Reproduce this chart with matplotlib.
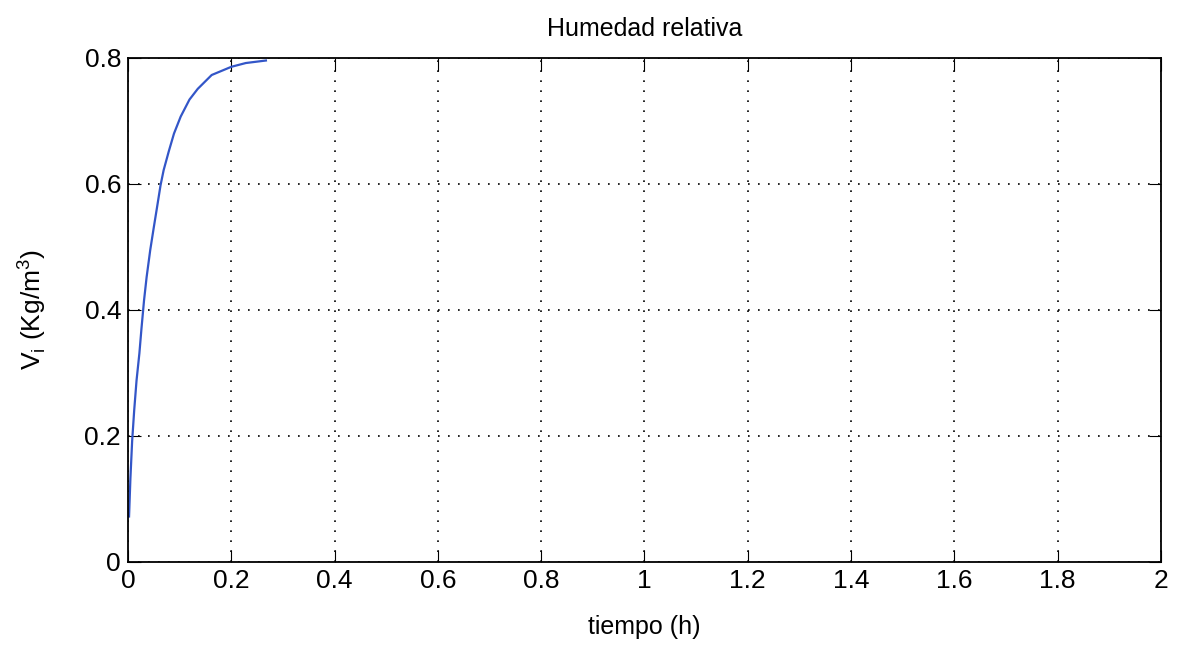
import matplotlib
matplotlib.use('Agg')
import matplotlib.pyplot as plt
import numpy as np

# Curve (time in h, Vi in Kg/m^3)
tiempo = [0.002, 0.0046, 0.008, 0.012, 0.0165, 0.022, 0.026, 0.031, 0.036,
          0.043, 0.0495, 0.056, 0.063, 0.069, 0.079, 0.089, 0.102, 0.119,
          0.135, 0.162, 0.2, 0.228, 0.267]
humedad = [0.072, 0.132, 0.192, 0.241, 0.288, 0.331, 0.37, 0.415, 0.452,
           0.495, 0.529, 0.562, 0.598, 0.622, 0.652, 0.680, 0.707, 0.734,
           0.751, 0.773, 0.786, 0.792, 0.796]

xticks = np.arange(0, 2.01, 0.2)
yticks = np.arange(0, 0.81, 0.2)
xticklabels = ['0', '0.2', '0.4', '0.6', '0.8', '1', '1.2', '1.4', '1.6', '1.8', '2']
yticklabels = ['0', '0.2', '0.4', '0.6', '0.8']

plt.rcParams['font.family'] = ['Liberation Sans', 'DejaVu Sans']

fig = plt.figure(figsize=(11.81, 6.48), dpi=100)
ax = fig.add_axes([0.1084, 0.133, 0.8746, 0.7775])

ax.plot(tiempo, humedad, color='#3356c8', linewidth=1.6)

ax.set_xlim(0, 2)
ax.set_ylim(0, 0.8)
ax.set_xticks(xticks)
ax.set_xticklabels(xticklabels)
ax.set_yticks(yticks)
ax.set_yticklabels(yticklabels)
ax.tick_params(direction='in', length=9, labelsize=19, top=True, right=True, pad=5)
ax.grid(True, color='black', linestyle=(0, (1, 5)), linewidth=1.2)
for s in ax.spines.values():
    s.set_linewidth(1.3)

ax.set_title('Humedad relativa', fontsize=18, pad=16)
ax.set_xlabel('tiempo (h)', fontsize=18, labelpad=16)
ax.set_ylabel(r'V$_\mathregular{i}$ (Kg/m$^\mathregular{3}$)', fontsize=19, labelpad=26)

fig.savefig('out.png', dpi=100)
